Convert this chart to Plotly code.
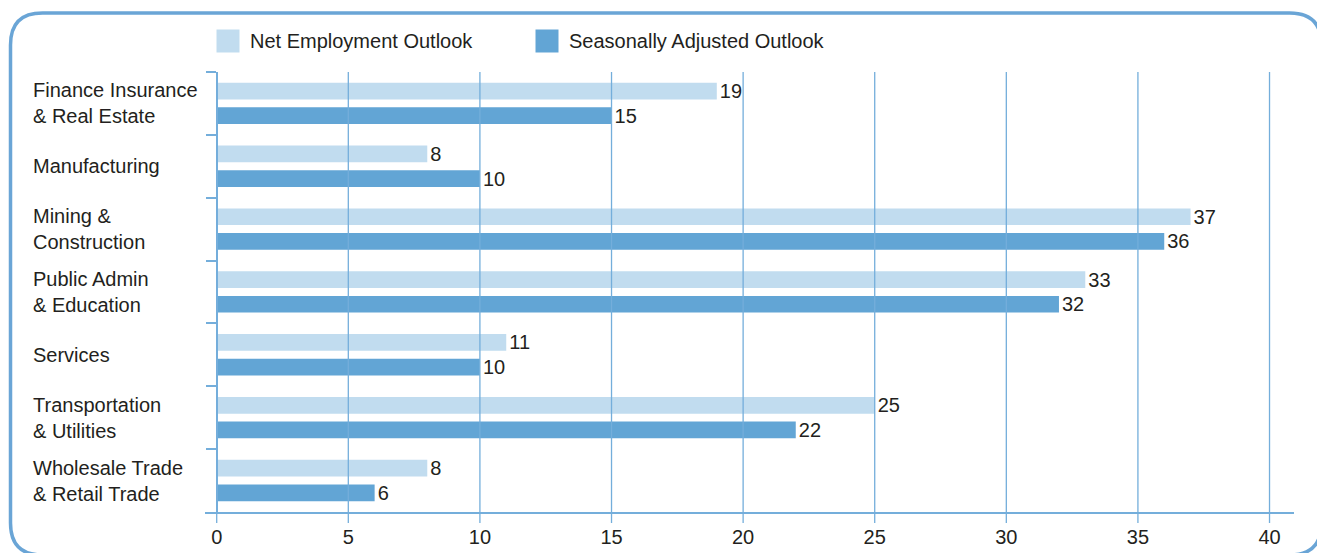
import plotly.graph_objects as go

# ---- data ----
categories = [
    "Finance Insurance<br>& Real Estate",
    "Manufacturing",
    "Mining &<br>Construction",
    "Public Admin<br>& Education",
    "Services",
    "Transportation<br>& Utilities",
    "Wholesale Trade<br>& Retail Trade",
]
series_names = ["Net Employment Outlook", "Seasonally Adjusted Outlook"]
net_outlook = [19, 8, 37, 33, 11, 25, 8]
seasonal_outlook = [15, 10, 36, 32, 10, 22, 6]
x_ticks = [0, 5, 10, 15, 20, 25, 30, 35, 40]

# ---- style ----
FONT = "Liberation Sans"
TXT = "#231f20"
LIGHT = "#c1dcef"
DARK = "#62a5d5"
GRID = "#74aedb"
BORDER = "#6aa5d6"

# page has an 8px body margin: work in reference pixels, shift by 8
OFF = 8
W_FIG, H_FIG = 1325 - OFF, 553 - OFF
L, R, T, B = 205 - OFF, 1294 - OFF, 72 - OFF, 512 - OFF
PW, PH = R - L, B - T


def fx(p):
    return (p - OFF - L) / PW


def fy(p):
    return (B - (p - OFF)) / PH


fig = go.Figure()
values = [net_outlook, seasonal_outlook]
colors = [LIGHT, DARK]
offsets = [-0.33, 0.062]
for name, vals, col, off in zip(series_names, values, colors, offsets):
    fig.add_trace(go.Bar(
        name=name, orientation="h", y=categories, x=vals,
        width=0.266, offset=off,
        marker=dict(color=col, line=dict(width=0)),
        text=[str(v) for v in vals], textposition="outside",
        constraintext="none", cliponaxis=False,
        textfont=dict(family=FONT, size=20, color=TXT),
        showlegend=False, hoverinfo="x+y",
    ))

shapes = []
# vertical grid lines above bars, extending below the axis as tick marks
for v in x_ticks:
    shapes.append(dict(type="line", xref="x", yref="paper", x0=v, x1=v,
                       y0=fy(523), y1=1,
                       layer="above", line=dict(color=GRID, width=1.3)))

# rounded border
x0, x1, y0, y1, r = 10.5, 1321.5, 13, 555, 32
path = (f"M {fx(x0 + r)},{fy(y0)} L {fx(x1 - r)},{fy(y0)} "
        f"Q {fx(x1)},{fy(y0)} {fx(x1)},{fy(y0 + r)} L {fx(x1)},{fy(y1 - r)} "
        f"Q {fx(x1)},{fy(y1)} {fx(x1 - r)},{fy(y1)} L {fx(x0 + r)},{fy(y1)} "
        f"Q {fx(x0)},{fy(y1)} {fx(x0)},{fy(y1 - r)} L {fx(x0)},{fy(y0 + r)} "
        f"Q {fx(x0)},{fy(y0)} {fx(x0 + r)},{fy(y0)} Z")
shapes.append(dict(type="path", xref="paper", yref="paper", path=path,
                   line=dict(color=BORDER, width=3.5), layer="above"))

annotations = []
# manual legend
legend_x = [216.5, 535.5]
for name, col, lx in zip(series_names, colors, legend_x):
    shapes.append(dict(type="rect", xref="paper", yref="paper",
                       x0=fx(lx), x1=fx(lx + 23), y0=fy(29.5), y1=fy(52.5),
                       fillcolor=col, line=dict(width=0)))
    annotations.append(dict(xref="paper", yref="paper", x=fx(lx + 31), y=fy(41),
                            xanchor="left", yanchor="middle", showarrow=False,
                            text=name, font=dict(family=FONT, size=20, color=TXT)))

# category labels (left aligned)
for c in categories:
    annotations.append(dict(xref="paper", yref="y", x=fx(31), y=c,
                            xanchor="left", yanchor="middle", align="left",
                            showarrow=False, text=c,
                            font=dict(family=FONT, size=20, color=TXT)))

fig.update_layout(
    width=W_FIG, height=H_FIG,
    margin=dict(l=L, r=W_FIG - R, t=T, b=H_FIG - B, pad=0, autoexpand=False),
    paper_bgcolor="white", plot_bgcolor="white",
    barmode="overlay",
    font=dict(family=FONT, size=20, color=TXT),
    shapes=shapes, annotations=annotations,
    xaxis=dict(range=[-0.445, 40.93], tickvals=x_ticks, showgrid=False, zeroline=False,
               showline=True, linecolor=GRID, linewidth=1.5, automargin=False,
               ticks="", ticklabelstandoff=6,
               tickfont=dict(family=FONT, size=20, color=TXT), fixedrange=True),
    yaxis=dict(type="category", categoryorder="array", categoryarray=categories,
               range=[6.5, -0.5], showticklabels=False, showgrid=False, zeroline=False,
               showline=True, linecolor=GRID, linewidth=1.5, automargin=False,
               anchor="free", position=(216.7 - 205) / PW,
               ticks="outside", tickson="boundaries", ticklen=10, tickwidth=1.5,
               tickcolor=GRID, fixedrange=True),
)

fig.write_html("out.html")
